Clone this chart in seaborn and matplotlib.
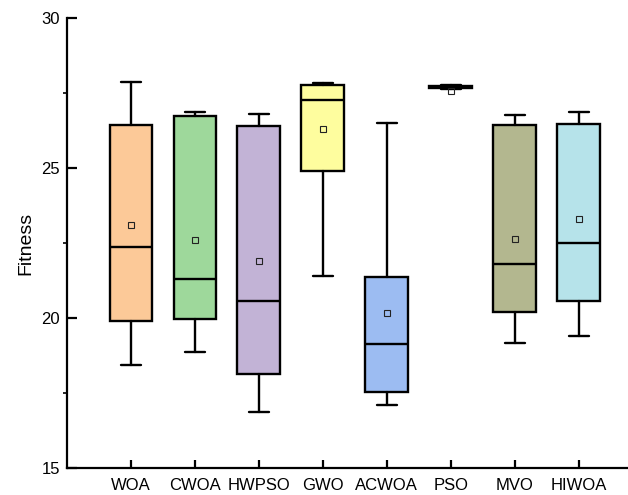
import matplotlib
matplotlib.use("Agg")
import matplotlib.pyplot as plt
import seaborn as sns
from matplotlib.ticker import MultipleLocator

# Box statistics
algorithms = ["WOA", "CWOA", "HWPSO", "GWO", "ACWOA", "PSO", "MVO", "HIWOA"]
whisker_low = [18.44, 18.88, 16.86, 21.39, 17.10, 27.64, 19.16, 19.40]
q1 = [19.91, 19.98, 18.13, 24.91, 17.54, 27.67, 20.21, 20.58]
median = [22.37, 21.31, 20.56, 27.27, 19.13, 27.70, 21.79, 22.51]
q3 = [26.42, 26.74, 26.39, 27.78, 21.36, 27.73, 26.44, 26.46]
whisker_high = [27.86, 26.86, 26.81, 27.83, 26.49, 27.76, 26.77, 26.88]
mean = [23.10, 22.60, 21.90, 26.29, 20.16, 27.58, 22.62, 23.29]
colors = ["#fcc998", "#9ed89b", "#c2b3d6", "#fefd9e", "#9cbcf2", "#f0f0f0", "#b3b78f", "#b6e3ea"]

sns.set_theme(style="ticks", rc={"text.color": "black", "axes.labelcolor": "black",
                                 "xtick.color": "black", "ytick.color": "black"})
plt.rcParams["font.family"] = ["Liberation Sans", "DejaVu Sans"]

fig = plt.figure(figsize=(6.28, 4.95), dpi=100)
ax = fig.add_axes([0.1067, 0.0545, 0.8933, 0.9091])

stats = []
for i, name in enumerate(algorithms):
    stats.append({
        "label": name,
        "whislo": whisker_low[i],
        "q1": q1[i],
        "med": median[i],
        "q3": q3[i],
        "whishi": whisker_high[i],
        "mean": mean[i],
        "fliers": [],
    })

line_kw = dict(color="black", linewidth=1.7)
boxes = ax.bxp(
    stats,
    positions=range(len(algorithms)),
    widths=0.67,
    patch_artist=True,
    showmeans=True,
    showfliers=False,
    boxprops=dict(edgecolor="black", linewidth=1.7),
    medianprops=line_kw,
    whiskerprops=line_kw,
    capprops=line_kw,
    capwidths=0.32,
    meanprops=dict(marker="s", markersize=4, markerfacecolor="none",
                   markeredgecolor="#222222", markeredgewidth=0.8),
)
for patch, c in zip(boxes["boxes"], colors):
    patch.set_facecolor(c)

ax.set_xlim(-1, 7.77)
ax.set_ylim(15, 30)
ax.yaxis.set_major_locator(MultipleLocator(5))
ax.yaxis.set_minor_locator(MultipleLocator(2.5))
ax.set_xticks(range(len(algorithms)))
ax.set_xticklabels(algorithms, fontsize=12)
ax.tick_params(axis="y", which="major", direction="in", length=7, width=1.6,
               labelsize=12, pad=5)
ax.tick_params(axis="y", which="minor", direction="out", length=3, width=1.2)
ax.tick_params(axis="x", which="major", direction="in", length=6, width=1.6, pad=7)
ax.set_ylabel("Fitness", fontsize=14, labelpad=5)

sns.despine(ax=ax)
for side in ["left", "bottom"]:
    ax.spines[side].set_linewidth(1.6)
    ax.spines[side].set_color("black")

fig.savefig("out.png", dpi=100)
